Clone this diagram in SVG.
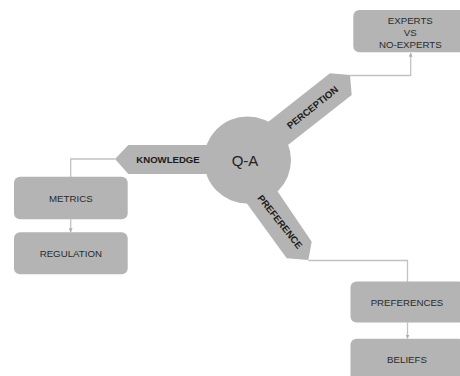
<svg xmlns="http://www.w3.org/2000/svg" width="460" height="376" viewBox="0 0 460 376">
<style>
.shape{fill:#b4b4b4;stroke:none}
.box{fill:#b4b4b4;stroke:none}
.lbl{font-family:"Liberation Sans",Arial,sans-serif;font-size:9.7px;fill:#2a2a2a;text-anchor:middle}
.arm{font-family:"Liberation Sans",Arial,sans-serif;font-size:9.6px;font-weight:bold;fill:#1a1a1a;text-anchor:middle}
.conn{fill:none;stroke:#c2c2c2;stroke-width:1.3}
</style>
<defs>
<marker id="ah" viewBox="0 0 6 6" refX="5.5" refY="3" markerWidth="4" markerHeight="4" orient="auto" markerUnits="userSpaceOnUse">
<path d="M0,0 L6,3 L0,6 Z" fill="#b0b0b0"/>
</marker>
</defs>
<rect width="460" height="376" fill="#ffffff"/>
<g id="connectors">
<path class="conn" d="M350,75.5 H410.7 V53" marker-end="url(#ah)"/>
<path class="conn" d="M115,159 H70.7 V177"/>
<path class="conn" d="M70.7,219.3 V232" marker-end="url(#ah)"/>
<path class="conn" d="M308.3,260.5 H407.5 V282"/>
<path class="conn" d="M407.5,322.5 V338.5" marker-end="url(#ah)"/>
</g>
<g id="qa">
<circle class="shape" cx="247.5" cy="160" r="43.5"/>
<text x="245" y="166" style="font-family:'Liberation Sans',Arial,sans-serif;font-size:15px;fill:#222;text-anchor:middle">Q-A</text>
</g>
<g id="knowledge">
<polygon class="shape" points="115,159 128.3,145 215,145 215,174 128.3,174"/>
<text class="arm" x="168" y="163.4">KNOWLEDGE</text>
</g>
<g id="perception">
<polygon class="shape" points="262,126.7 330,73.3 350,75 351.7,95 272,157.6"/>
<text class="arm" transform="translate(312.5,107.5) rotate(-38.4)" x="0" y="3.4">PERCEPTION</text>
</g>
<g id="preference">
<polygon class="shape" points="240,194 286.7,258.3 308.3,260 311.7,241.7 266,174.2"/>
<text class="arm" transform="translate(280,221.7) rotate(51.5)" x="0" y="3.4">PREFERENCE</text>
</g>
<g id="experts">
<rect class="box" x="353.3" y="10" width="114" height="42.3" rx="6"/>
<text class="lbl" x="410.3" y="23.5">EXPERTS</text>
<text class="lbl" x="410.3" y="35.5">VS</text>
<text class="lbl" x="410.3" y="47.5">NO-EXPERTS</text>
</g>
<g id="metrics">
<rect class="box" x="14" y="176.7" width="113.7" height="42.6" rx="6"/>
<text class="lbl" x="70.8" y="202.4">METRICS</text>
</g>
<g id="regulation">
<rect class="box" x="14" y="232.3" width="113.7" height="42" rx="6"/>
<text class="lbl" x="70.8" y="256.8">REGULATION</text>
</g>
<g id="preferences">
<rect class="box" x="350.5" y="281.5" width="114" height="41" rx="6"/>
<text class="lbl" x="407" y="305.8">PREFERENCES</text>
</g>
<g id="beliefs">
<rect class="box" x="350.5" y="338.8" width="114" height="42" rx="6"/>
<text class="lbl" x="407" y="362.8">BELIEFS</text>
</g>
</svg>
